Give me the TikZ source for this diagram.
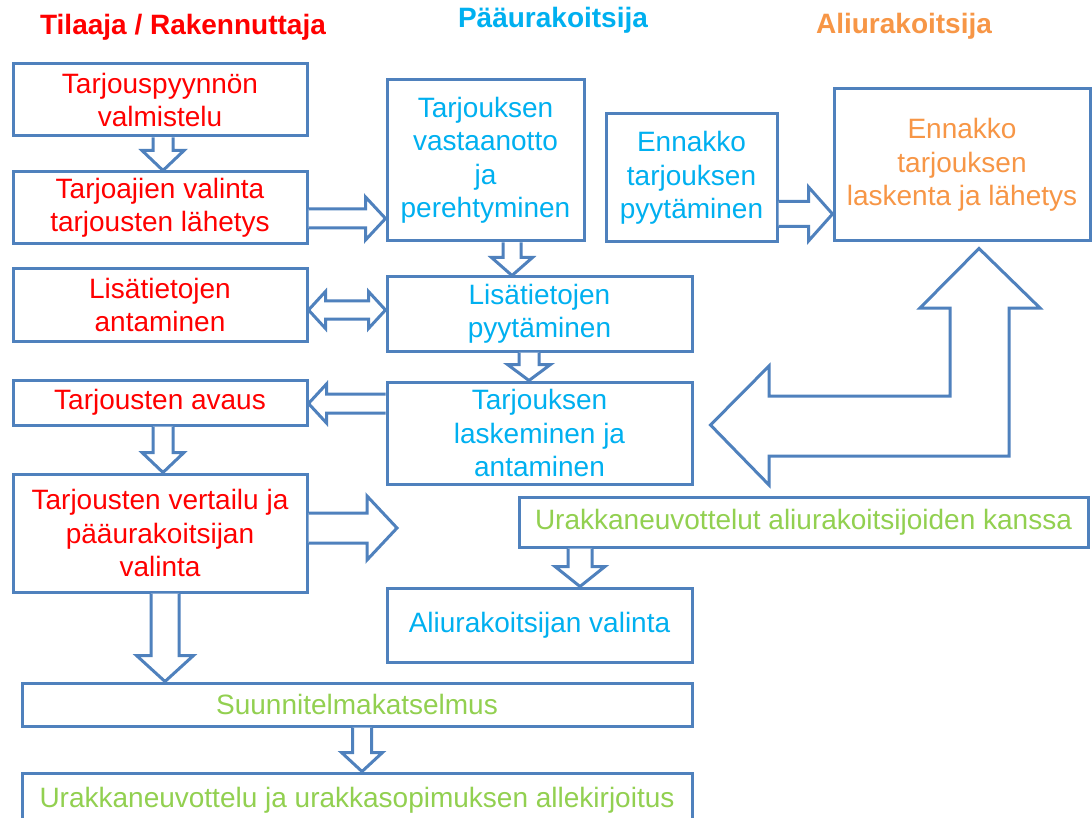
\documentclass[tikz,border=0pt]{standalone}
\usepackage{fontspec}
\setmainfont{Liberation Sans}
\usetikzlibrary{calc}
\definecolor{cred}{HTML}{FF0000}
\definecolor{ccyan}{HTML}{00B0F0}
\definecolor{corange}{HTML}{F79646}
\definecolor{cgreen}{HTML}{92D050}
\definecolor{cblue}{HTML}{4F81BD}
\newcommand\arrdown[6]{\draw[blk] let \p1=(#1), \p2=(#2) in
 ({#3pt-#4pt},\y1) -- ({#3pt-#4pt},{\y2+#6pt}) -- ({#3pt-#5pt},{\y2+#6pt}) -- (#3pt,\y2) -- ({#3pt+#5pt},{\y2+#6pt}) -- ({#3pt+#4pt},{\y2+#6pt}) -- ({#3pt+#4pt},\y1);}
\newcommand\arrright[6]{\draw[blk] let \p1=(#1), \p2=(#2) in
 (\x1,{-#3pt+#4pt}) -- ({\x2-#6pt},{-#3pt+#4pt}) -- ({\x2-#6pt},{-#3pt+#5pt}) -- (\x2,-#3pt) -- ({\x2-#6pt},{-#3pt-#5pt}) -- ({\x2-#6pt},{-#3pt-#4pt}) -- (\x1,{-#3pt-#4pt});}
\newcommand\arrleft[6]{\draw[blk] let \p1=(#1), \p2=(#2) in
 (\x1,{-#3pt+#4pt}) -- ({\x2+#6pt},{-#3pt+#4pt}) -- ({\x2+#6pt},{-#3pt+#5pt}) -- (\x2,-#3pt) -- ({\x2+#6pt},{-#3pt-#5pt}) -- ({\x2+#6pt},{-#3pt-#4pt}) -- (\x1,{-#3pt-#4pt});}
\newcommand\arrboth[6]{\draw[blk] let \p1=(#1), \p2=(#2) in
 (\x1,-#3pt) -- ({\x1+#6pt},{-#3pt+#5pt}) -- ({\x1+#6pt},{-#3pt+#4pt}) -- ({\x2-#6pt},{-#3pt+#4pt}) -- ({\x2-#6pt},{-#3pt+#5pt}) -- (\x2,-#3pt) -- ({\x2-#6pt},{-#3pt-#5pt}) -- ({\x2-#6pt},{-#3pt-#4pt}) -- ({\x1+#6pt},{-#3pt-#4pt}) -- ({\x1+#6pt},{-#3pt-#5pt}) -- cycle;}
\begin{document}
\begin{tikzpicture}[x=1pt,y=-1pt,
  box/.style={draw=cblue,line width=3pt,fill=white,inner sep=0pt,align=center,
    font=\fontsize{28}{33.5}\selectfont},
  head/.style={anchor=base,font=\fontsize{28}{33}\selectfont\bfseries,inner sep=0pt},
  blk/.style={draw=cblue,line width=3pt,fill=white,line join=miter}]
\clip (0,0) rectangle (1092,818);
\fill[white] (0,0) rectangle (1092,818);
% headers
\node[head,text=cred] (h1) at (183,35) {Tilaaja / Rakennuttaja};
\node[head,text=ccyan] (h2) at (553,28) {Pääurakoitsija};
\node[head,text=corange] (h3) at (904,34) {Aliurakoitsija};
% boxes
\node[box,text=cred,minimum width=294pt,minimum height=72pt] (b1) at (160,100) {Tarjouspyynnön\\valmistelu};
\node[box,text=cred,minimum width=294pt,minimum height=72pt] (b2) at (160,208) {Tarjoajien valinta\\tarjousten lähetys};
\node[box,text=ccyan,minimum width=197pt,minimum height=161pt] (b3) at (485.5,160.5) {Tarjouksen\\vastaanotto\\ja\\perehtyminen};
\node[box,text=ccyan,minimum width=171pt,minimum height=128pt] (b4) at (691.5,178) {Ennakko\\tarjouksen\\pyytäminen};
\node[box,text=corange,minimum width=256pt,minimum height=152pt] (b5) at (962,165) {Ennakko\\tarjouksen\\laskenta ja lähetys};
\node[box,text=cred,minimum width=294pt,minimum height=72pt] (b6) at (160,305) {Lisätietojen\\antaminen};
\node[box,text=ccyan,minimum width=305pt,minimum height=74pt] (b7) at (539.5,314) {Lisätietojen\\pyytäminen};
\node[box,text=cred,minimum width=294pt,minimum height=45pt] (b8) at (160,402.5) {Tarjousten avaus};
\node[box,text=ccyan,minimum width=305pt,minimum height=102pt] (b9) at (539.5,433) {Tarjouksen\\laskeminen ja\\antaminen};
\node[box,text=cred,minimum width=294pt,minimum height=118pt] (b10) at (160,533) {Tarjousten vertailu ja\\pääurakoitsijan\\valinta};
\node[box,text=cgreen,minimum width=569pt,minimum height=50pt] (b11) at (803.5,522) {Urakkaneuvottelut aliurakoitsijoiden kanssa};
\node[box,text=ccyan,minimum width=305pt,minimum height=74pt] (b12) at (539.5,625) {Aliurakoitsijan valinta};
\node[box,text=cgreen,minimum width=670pt,minimum height=43pt] (b13) at (357,704.5) {Suunnitelmakatselmus};
\node[box,text=cgreen,minimum width=670pt,minimum height=55pt] (b14) at (357,800.5) {Urakkaneuvottelu ja urakkasopimuksen allekirjoitus};
\coordinate (f1) at (397,528);
% arrows
\arrdown{b1.south}{b2.north}{163}{10}{21}{20}
\arrright{b2.east}{b3.west}{218.5}{9.5}{21.5}{20}
\arrright{b4.east}{b5.west}{214}{12.5}{27}{24}
\arrdown{b3.south}{b7.north}{512}{9}{20.5}{18}
\arrboth{b6.east}{b7.west}{310}{9}{18.5}{17}
\arrdown{b7.south}{b9.north}{529}{10}{21.5}{16}
\arrleft{b9.west}{b8.east}{403.5}{9.5}{19.5}{18}
\arrdown{b8.south}{b10.north}{163}{10}{21}{20}
\arrright{b10.east}{f1}{528}{15}{32}{30}
\arrdown{b11.south}{b12.north}{580}{12}{25}{20}
\arrdown{b10.south}{b13.north}{165}{14}{28.5}{26}
\arrdown{b13.south}{b14.north}{362}{9.5}{20.5}{19}
% big L-shaped two-headed arrow between b9 and b5
\draw[blk] let \p1=($(b9.east)+(17,-8)$), \p2=($(b5.south)+(17,6)$) in
  (\p1) -- (769pt,-366pt) -- (769pt,-396pt) -- (950pt,-396pt) -- (950pt,-308pt) -- (920pt,-308pt)
  -- (\p2) -- (1040pt,-308pt) -- (1009pt,-308pt) -- (1009pt,-456pt) -- (769pt,-456pt) -- (769pt,-485pt) -- cycle;
\end{tikzpicture}
\end{document}
